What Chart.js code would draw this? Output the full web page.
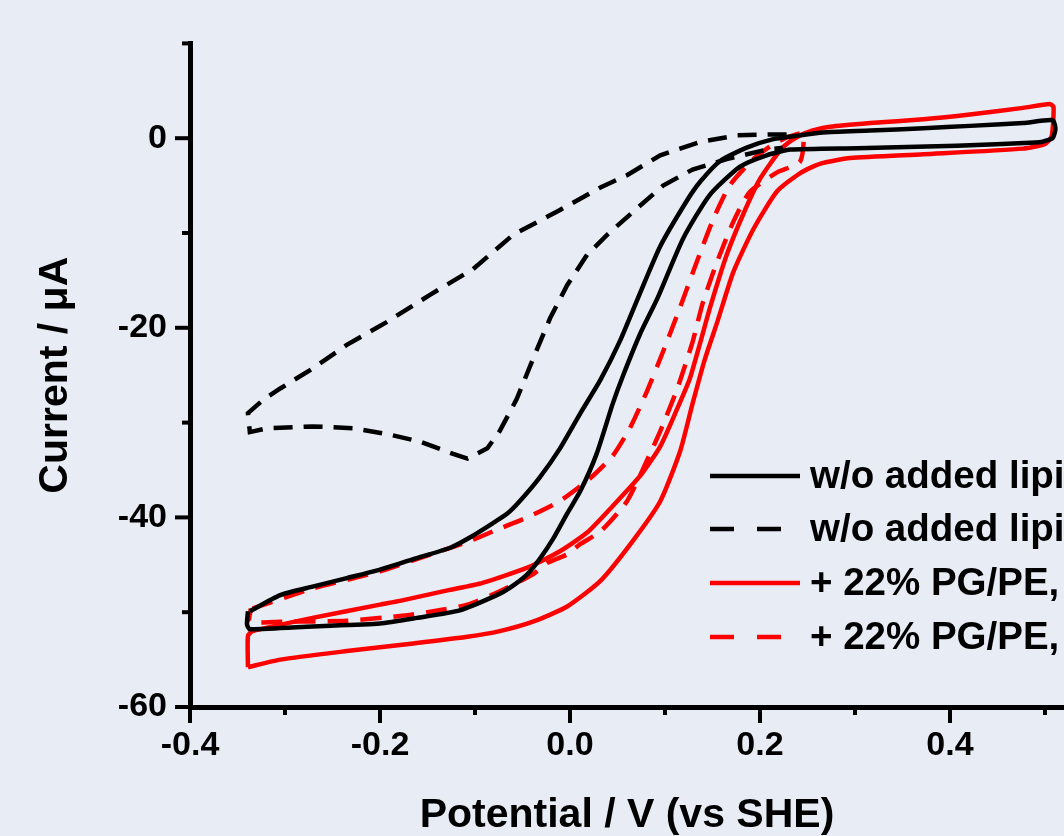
<!DOCTYPE html>
<html>
<head>
<meta charset="utf-8">
<script src="https://cdn.jsdelivr.net/npm/chart.js@4.4.0/dist/chart.umd.min.js"></script>
<style>
	html, body { margin: 0; padding: 0; background: #e8ecf4; overflow: hidden; }
	#wrap { width: 1064px; height: 836px; }
</style>
</head>
<body>
<div id="wrap"><canvas id="cvChart" width="1064" height="836"></canvas></div>
<script>
// Legend text for the four scans
const seriesLabels = [
	'w/o added lipid, 1',
	'w/o added lipid, 2',
	'+ 22% PG/PE, 1',
	'+ 22% PG/PE, 2',
]

// w/o added lipid, solid: potential (V vs SHE) and current (uA)
const blackSolidV = [
	-0.337, -0.305, -0.271, -0.235, -0.200, -0.165, -0.126, -0.105, -0.081, -0.066,
	-0.053, -0.032, -0.011, 0.011, 0.032, 0.053, 0.071, 0.095, 0.123, 0.137,
	0.158, 0.186, 0.214, 0.242, 0.266, 0.316, 0.372, 0.421, 0.477, 0.508,
	0.511, 0.508, 0.496,
	0.490, 0.407, 0.302, 0.232, 0.207, 0.179, 0.147, 0.119, 0.092, 0.074,
	0.056, 0.045, 0.028, 0.011, -0.003, -0.018, -0.032, -0.045, -0.063, -0.077,
	-0.116, -0.161, -0.200, -0.271, -0.337, -0.340, -0.339,
]
const blackSolidI = [
	-49.9, -48.2, -47.3, -46.4, -45.5, -44.4, -43.2, -42.1, -40.6, -39.6,
	-38.3, -35.8, -32.8, -29.0, -25.5, -21.3, -17.0, -11.4, -6.6, -4.6,
	-2.4, -1.0, -0.1, 0.3, 0.6, 0.8, 1.05, 1.3, 1.6, 1.9,
	1.0, 0.0, -0.4,
	-0.45, -0.8, -1.05, -1.2, -1.8, -3.0, -6.0, -10.6, -16.9, -20.6,
	-25.0, -28.0, -33.3, -37.2, -39.6, -42.3, -44.4, -46.0, -47.4, -48.2,
	-49.8, -50.6, -51.2, -51.5, -51.8, -51.3, -49.9,
]

// w/o added lipid, dashed
const blackDashV = [
	0.228, 0.214, 0.176, 0.137, 0.095, 0.060, 0.032, -0.011, -0.060, -0.102,
	-0.147, -0.193, -0.235, -0.271, -0.305, -0.323, -0.339, -0.337,
	-0.319, -0.271, -0.228, -0.193, -0.158, -0.123, -0.108,
	-0.087, -0.074, -0.056, -0.039, -0.021, -0.003, 0.018, 0.039, 0.066, 0.098,
	0.129, 0.165, 0.207, 0.224,
]
const blackDashI = [
	0.4, 0.4, 0.3, -0.4, -1.8, -3.9, -5.2, -7.6, -10.2, -13.8,
	-16.5, -19.4, -21.8, -24.3, -26.4, -27.6, -29.0, -31.0,
	-30.6, -30.4, -30.6, -31.2, -32.0, -33.3, -33.8,
	-32.7, -30.9, -27.5, -23.3, -19.0, -15.5, -12.3, -10.2, -7.8, -5.0,
	-3.3, -2.2, -1.2, -1.0,
]

// + 22% PG/PE, solid
const redSolidV = [
	-0.339, -0.305, -0.235, -0.165, -0.108, -0.074, -0.039, -0.003, 0.032, 0.066,
	0.095, 0.116, 0.129, 0.142, 0.155, 0.172, 0.193, 0.218, 0.242, 0.263,
	0.295, 0.372, 0.477, 0.500, 0.507,
	0.509, 0.505,
	0.477, 0.421, 0.372, 0.316, 0.274, 0.249, 0.232, 0.221, 0.200, 0.182,
	0.165, 0.147, 0.137, 0.126, 0.113, 0.095, 0.074, 0.045, 0.018, -0.011,
	-0.045, -0.092, -0.129, -0.179, -0.200, -0.271, -0.334, -0.339, -0.339,
]
const redSolidI = [
	-55.8, -55.0, -54.1, -53.3, -52.6, -52.0, -51.0, -49.4, -46.7, -42.5,
	-38.3, -33.0, -28.0, -23.3, -19.4, -14.1, -9.6, -5.6, -3.7, -2.7,
	-2.1, -1.7, -1.1, -0.6, 0.2,
	3.3, 3.6,
	3.2, 2.5, 2.0, 1.6, 1.2, 0.6, -0.3, -1.3, -4.3, -8.1,
	-12.3, -18.0, -21.6, -25.4, -28.5, -32.5, -35.6, -38.8, -41.6, -43.6,
	-45.3, -46.9, -47.7, -48.8, -49.2, -50.6, -52.0, -52.5, -55.8,
]

// + 22% PG/PE, dashed
const redDashV = [
	-0.334, -0.271, -0.200, -0.144, -0.108, -0.077, -0.045, -0.011, 0.021, 0.045,
	0.063, 0.081, 0.098, 0.116, 0.134, 0.151, 0.168, 0.193, 0.218, 0.245,
	0.242, 0.218, 0.189, 0.172, 0.155, 0.140, 0.129, 0.113, 0.095, 0.081,
	0.060, 0.032, 0.011, -0.003, -0.024, -0.039, -0.074, -0.108, -0.144, -0.179,
	-0.235, -0.305, -0.337, -0.336,
]
const redDashI = [
	-49.6, -47.5, -45.7, -43.8, -42.6, -41.3, -40.0, -38.3, -35.9, -33.5,
	-30.6, -26.7, -22.5, -17.8, -12.9, -8.5, -5.0, -2.2, -0.4, 0.5,
	-2.5, -3.6, -5.7, -8.8, -13.0, -17.3, -21.5, -26.4, -30.9, -34.0,
	-38.3, -41.5, -42.8, -43.9, -44.8, -46.0, -47.8, -49.2, -49.9, -50.4,
	-50.9, -51.0, -51.0, -49.6,
]

// Axis tick values
const xTicksMajor = [-0.4, -0.2, 0.0, 0.2, 0.4]
const yTicksMajor = [-60, -40, -20, 0]

const FONT = "'Liberation Sans', Arial, sans-serif"
const BG = '#e8ecf4'

function toPoints(vs, is) {
	return vs.map((v, k) => ({ x: v, y: is[k] }))
}

function isMajorX(v) {
	return xTicksMajor.some(m => Math.abs(m - v) < 1e-6)
}

function isMajorY(v) {
	return yTicksMajor.some(m => Math.abs(m - v) < 1e-6)
}

// plain background colour for the whole canvas
const bgPlugin = {
	id: 'bgPlugin',
	beforeDraw(chart) {
		const ctx = chart.ctx
		ctx.save()
		ctx.fillStyle = BG
		ctx.fillRect(0, 0, chart.width, chart.height)
		ctx.restore()
	},
}

// outward tick marks, long for labelled ticks and short for the others
const tickMarks = {
	id: 'tickMarks',
	afterDraw(chart) {
		const ctx = chart.ctx
		const xs = chart.scales.x
		const ys = chart.scales.y
		ctx.save()
		ctx.strokeStyle = '#000'
		ctx.lineWidth = 4
		ctx.lineCap = 'butt'
		xs.ticks.forEach(t => {
			const px = xs.getPixelForValue(t.value)
			const len = isMajorX(t.value) ? 16 : 8
			ctx.beginPath()
			ctx.moveTo(px, xs.top)
			ctx.lineTo(px, xs.top + len)
			ctx.stroke()
		})
		ys.ticks.forEach(t => {
			const py = ys.getPixelForValue(t.value)
			const len = isMajorY(t.value) ? 15 : 8
			ctx.beginPath()
			ctx.moveTo(ys.right, py)
			ctx.lineTo(ys.right - len, py)
			ctx.stroke()
		})
		ctx.restore()
	},
}

// legend drawn inside the plot, lower right
const legendBox = {
	id: 'legendBox',
	afterDraw(chart) {
		const ctx = chart.ctx
		const x0 = 710
		const x1 = 800
		const rows = [476, 529, 583, 637]
		ctx.save()
		ctx.font = 'bold 38.5px ' + FONT
		ctx.textBaseline = 'middle'
		ctx.textAlign = 'left'
		chart.data.datasets.forEach((ds, k) => {
			const y = rows[k]
			ctx.strokeStyle = ds.borderColor
			ctx.lineWidth = 4.5
			ctx.setLineDash(ds.borderDash && ds.borderDash.length ? [24, 23] : [])
			ctx.beginPath()
			ctx.moveTo(x0, y)
			ctx.lineTo(x1, y)
			ctx.stroke()
			ctx.setLineDash([])
			ctx.fillStyle = '#000'
			ctx.fillText(ds.label, 810, y + 1)
		})
		ctx.restore()
	},
}

const ctx = document.getElementById('cvChart').getContext('2d')
const cvChart = new Chart(ctx, {
	type: 'scatter',
	data: {
		datasets: [
			{
				label: seriesLabels[0],
				data: toPoints(blackSolidV, blackSolidI),
				borderColor: '#000000',
				borderWidth: 4.5,
				borderDash: [],
				tension: 0.2,
			},
			{
				label: seriesLabels[1],
				data: toPoints(blackDashV, blackDashI),
				borderColor: '#000000',
				borderWidth: 4.5,
				borderDash: [19, 11],
				tension: 0,
			},
			{
				label: seriesLabels[2],
				data: toPoints(redSolidV, redSolidI),
				borderColor: '#ff0000',
				borderWidth: 4.5,
				borderDash: [],
				tension: 0.2,
			},
			{
				label: seriesLabels[3],
				data: toPoints(redDashV, redDashI),
				borderColor: '#ff0000',
				borderWidth: 4.5,
				borderDash: [21, 12],
				tension: 0.2,
			},
		],
	},
	options: {
		responsive: false,
		animation: false,
		devicePixelRatio: 1,
		showLine: true,
		elements: {
			point: { radius: 0, hoverRadius: 0 },
			line: { fill: false },
		},
		layout: {
			padding: { top: 42, right: 0, bottom: 0, left: 0 },
		},
		plugins: {
			legend: { display: false },
			tooltip: { enabled: false },
		},
		scales: {
			x: {
				type: 'linear',
				min: -0.4,
				max: 0.52,
				afterFit(scale) {
					scale.height = 129
				},
				grid: { display: false, drawTicks: false },
				border: { display: true, color: '#000', width: 5 },
				ticks: {
					stepSize: 0.1,
					includeBounds: false,
					autoSkip: false,
					maxRotation: 0,
					padding: 18,
					color: '#000',
					font: { family: FONT, size: 34, weight: 'bold' },
					callback: v => (isMajorX(v) ? v.toFixed(1) : ''),
				},
				title: {
					display: true,
					text: 'Potential / V (vs SHE)',
					color: '#000',
					font: { family: FONT, size: 41, weight: 'bold', lineHeight: 1 },
					padding: { top: 0, bottom: 0 },
				},
			},
			y: {
				type: 'linear',
				min: -60,
				max: 10,
				afterFit(scale) {
					scale.width = 190
				},
				grid: { display: false, drawTicks: false },
				border: { display: true, color: '#000', width: 5 },
				ticks: {
					stepSize: 10,
					autoSkip: false,
					padding: 23,
					color: '#000',
					font: { family: FONT, size: 34, weight: 'bold' },
					callback: v => (isMajorY(v) ? String(v) : ''),
				},
				title: {
					display: true,
					text: 'Current / μA',
					color: '#000',
					font: { family: FONT, size: 41, weight: 'bold', lineHeight: 1 },
					padding: { top: 35, bottom: 0 },
				},
			},
		},
	},
	plugins: [bgPlugin, tickMarks, legendBox],
})
</script>
</body>
</html>
